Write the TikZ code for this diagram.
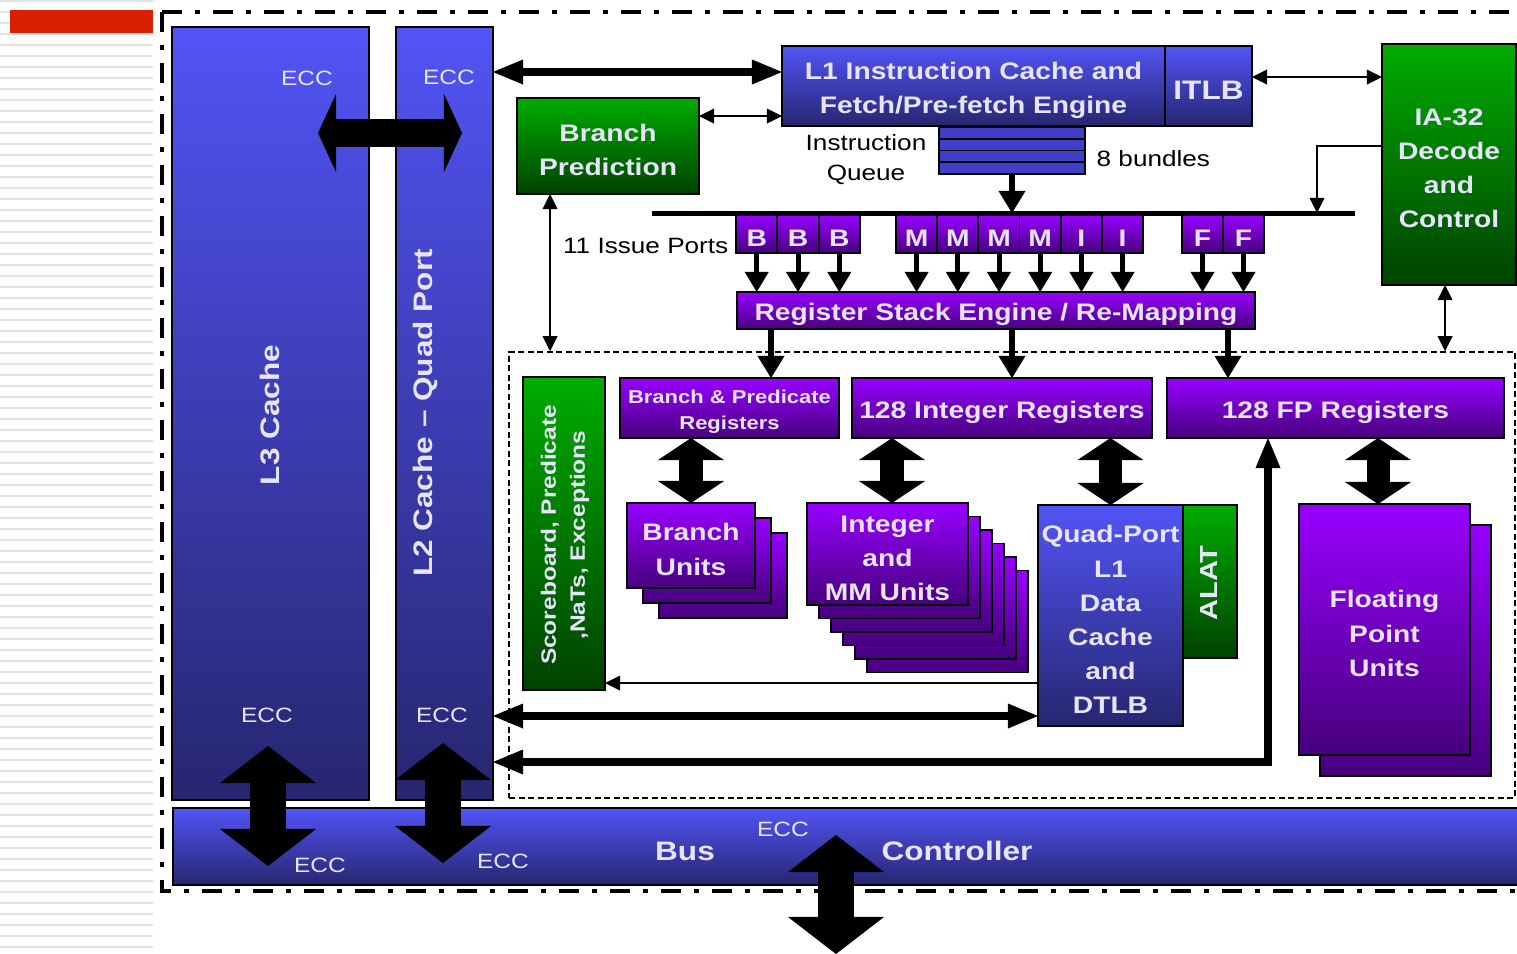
\documentclass[tikz,border=0pt]{standalone}
\usepackage{fontspec}
\setmainfont{Liberation Sans}[FakeStretch=1.18]
\usetikzlibrary{arrows.meta}

\definecolor{blutop}{RGB}{82,84,245}
\definecolor{blubot}{RGB}{38,38,112}
\definecolor{grntop}{RGB}{0,172,0}
\definecolor{grnbot}{RGB}{0,66,0}
\definecolor{purtop}{RGB}{152,0,255}
\definecolor{purbot}{RGB}{70,0,125}
\definecolor{qblue}{RGB}{62,62,200}
\definecolor{lav}{RGB}{232,228,252}
\definecolor{redbar}{RGB}{216,32,0}
\definecolor{strip}{RGB}{226,226,226}

\tikzset{
  sz/.style 2 args={minimum width=#1*0.01cm, minimum height=#2*0.01cm},
  box/.style={draw=black, line width=0.5pt, inner sep=0pt, outer sep=0pt},
  blubox/.style={box, top color=blutop, bottom color=blubot},
  grnbox/.style={box, top color=grntop, bottom color=grnbot},
  purbox/.style={box, top color=purtop, bottom color=purbot},
  wlbl/.style={text=lav, font=\bfseries\fontsize{6.8}{9.7}\selectfont, align=center},
  txt/.style={label={[wlbl, yshift=-0.04cm]center:{#1}}},
  txtf/.style 2 args={label={[wlbl, font=#1, yshift=-0.04cm]center:{#2}}},
  wbig/.style={text=lav, font=\bfseries\fontsize{7.6}{9}\selectfont, inner sep=0pt},
  ecc/.style={text=lav, font=\fontsize{5.9}{7}\selectfont, inner sep=0pt},
  blk/.style={text=black, font=\fontsize{6.3}{8.5}\selectfont, align=center, inner sep=0pt},
  thinarr/.style={line width=0.016cm, arrows={Triangle[width=0.15cm,length=0.15cm,line width=0pt]-Triangle[width=0.15cm,length=0.15cm,line width=0pt]}},
  thinend/.style={line width=0.016cm, arrows={-Triangle[width=0.15cm,length=0.15cm,line width=0pt]}},
  midarr/.style={line width=0.08cm, arrows={Triangle[width=0.25cm,length=0.3cm,line width=0pt]-Triangle[width=0.25cm,length=0.3cm,line width=0pt]}},
  portarr/.style={line width=0.05cm, arrows={-Triangle[width=0.24cm,length=0.2cm,line width=0pt]}},
  regarr/.style={line width=0.06cm, arrows={-Triangle[width=0.27cm,length=0.22cm,line width=0pt]}},
  blockarr/.style={line width=0.23cm, arrows={Triangle[width=0.66cm,length=0.22cm,line width=0pt]-Triangle[width=0.66cm,length=0.22cm,line width=0pt]}},
  eccarr/.style={line width=0.28cm, arrows={Triangle[width=0.78cm,length=0.18cm,line width=0pt]-Triangle[width=0.78cm,length=0.18cm,line width=0pt]}},
  busarr/.style={line width=0.35cm, arrows={Triangle[width=0.96cm,length=0.37cm,line width=0pt]-Triangle[width=0.96cm,length=0.37cm,line width=0pt]}},
  stripe/.style={line width=0.025cm, strip},
  frame/.style={line width=0.04cm, dash pattern=on 0.2cm off 0.13cm on 0.05cm off 0.13cm},
  coredash/.style={draw=black, line width=0.015cm, dash pattern=on 0.06cm off 0.035cm, inner sep=0pt}
}

\begin{document}
\begin{tikzpicture}[x=0.01cm, y=-0.01cm]
\useasboundingbox (0,0) rectangle (1517,954);

% slide background
\foreach \y in {1,12,...,951} \draw[stripe] (0,\y) -- (153,\y);
\fill[redbar] (10,10) rectangle (153,33);
\draw[frame] (162,12) -- (1600,12) (162,12) -- (162,891) -- (1600,891);

% caches and bus
\node[blubox, sz={197}{773}] (L3) at (270.5,413.5) {};
\node[blubox, sz={97}{773}] (L2) at (444.5,413.5) {};
\node[blubox, sz={1400}{77}] (bus) at (873,846.5) {};
\node[wbig, rotate=90] (l3txt) at (270,415) {L3 Cache};
\node[wbig, rotate=90] (l2txt) at (425,413) {L2 Cache – Quad Port};

\node[coredash, sz={1006}{446}] (core) at (1012,575) {};

% front end
\node[blubox, sz={383}{80}, txt={L1 Instruction Cache and\\Fetch/Pre-fetch Engine}] (L1) at (973.5,86) {};
\node[blubox, sz={87}{80}, txtf={\bfseries\fontsize{7.6}{9}\selectfont}{ITLB}] (ITLB) at (1208.5,86) {};
\foreach \i in {1,...,4}
  \node[box, fill=qblue, sz={146}{11.75}] (q\i) at (1012,121.125+11.75*\i) {};
\node[blk] (iq) at (866,160) {Instruction\\Queue};
\node[blk, anchor=west] (bund) at (1096,159) {8 bundles};
\node[grnbox, sz={182}{96}, txt={Branch\\Prediction}] (BP) at (608,146) {};
\node[grnbox, sz={134}{241}, txt={IA-32\\Decode\\and\\Control}] (IA32) at (1449,164.5) {};

% dispatch
\coordinate (dispL) at (652,213);
\coordinate (dispR) at (1355,213);
\draw[line width=0.05cm] (dispL) -- (dispR);
\node[blk, anchor=east] (issue) at (729,246) {11 Issue Ports};
\foreach \nm/\cx/\lt in {pb1/756.7/B, pb2/798/B, pb3/839.3/B,
    pm1/916.6/M, pm2/957.8/M, pm3/999/M, pm4/1040.2/M, pi1/1081.4/I, pi2/1122.6/I,
    pf1/1202.5/F, pf2/1243.5/F}
  \node[purbox, sz={41.3}{38}, txt={\lt}] (\nm) at (\cx,234) {};
\node[purbox, sz={518}{37}, txt={Register Stack Engine / Re-Mapping}] (RSE) at (996,310.5) {};

% registers
\node[purbox, sz={219}{60}, txtf={\bfseries\fontsize{5.3}{7.4}\selectfont}{Branch \& Predicate\\Registers}] (BPreg) at (729.5,408) {};
\node[purbox, sz={300}{60}, txt={128 Integer Registers}] (IntReg) at (1002,408) {};
\node[purbox, sz={337}{60}, txt={128 FP Registers}] (FPReg) at (1335.5,408) {};

% execution units
\node[grnbox, sz={82}{313}] (SB) at (564,533.5) {};
\node[wlbl, rotate=90, font=\bfseries\fontsize{5.9}{8.2}\selectfont] (sbtxt) at (565,535) {Scoreboard, Predicate\\,NaTs, Exceptions};
\foreach \i in {2,1}
  \node[purbox, sz={128}{85}] (bu\i) at (691+16*\i,545.5+15*\i) {};
\node[purbox, sz={128}{85}, txt={Branch\\Units}] (BrU) at (691,545.5) {};
\foreach \i in {5,4,3,2,1}
  \node[purbox, sz={161}{102}] (iu\i) at (887.5+12*\i,554+13.5*\i) {};
\node[purbox, sz={161}{102}, txt={Integer\\and\\MM Units}] (IntU) at (887.5,554) {};
\node[blubox, sz={145}{221}, txt={Quad-Port\\L1\\Data\\Cache\\and\\DTLB}] (Quad) at (1110.5,615.5) {};
\node[grnbox, sz={54}{153}] (ALAT) at (1210,581.5) {};
\node[wlbl, rotate=90, font=\bfseries\fontsize{7}{8}\selectfont] (alattxt) at (1209,583) {ALAT};
\node[purbox, sz={171}{251}] (fpu1) at (1405.5,650.5) {};
\node[purbox, sz={171}{251}, txt={Floating\\Point\\Units}] (FPU) at (1384.5,629.5) {};

% ECC labels
\node[ecc] (ecc1) at (307,78) {ECC};
\node[ecc] (ecc2) at (449,77) {ECC};
\node[ecc] (ecc3) at (267,715) {ECC};
\node[ecc] (ecc4) at (442,715) {ECC};
\node[ecc] (ecc5) at (320,865) {ECC};
\node[ecc] (ecc6) at (503,861) {ECC};
\node[ecc] (ecc7) at (783,829) {ECC};
\node[wbig] (bustxt) at (685,851) {Bus};
\node[wbig] (ctltxt) at (957,851) {Controller};

% connectors
\draw[midarr] (L2.east |- 0,72) -- (L1.west |- 0,72);
\draw[thinarr] (BP.east |- 0,116) -- (L1.west |- 0,116);
\draw[thinarr] (ITLB.east |- 0,77) -- (IA32.west |- 0,77);
\coordinate (iadrop) at (1317,213);
\draw[thinend] (IA32.west |- 0,146) -| (iadrop);
\draw[regarr] (q4.south) -- (q4.south |- dispL);
\foreach \nm in {pb1,pb2,pb3,pm1,pm2,pm3,pm4,pi1,pi2,pf1,pf2}
  \draw[portarr] (\nm.south) -- (\nm.south |- RSE.north);
\draw[regarr] (RSE.south -| 771,0) -- (BPreg.north -| 771,0);
\draw[regarr] (RSE.south -| 1012,0) -- (IntReg.north -| 1012,0);
\draw[regarr] (RSE.south -| 1228,0) -- (FPReg.north -| 1228,0);
\draw[thinarr] (BP.south -| 550,0) -- (core.north -| 550,0);
\draw[thinarr] (IA32.south -| 1445,0) -- (core.north -| 1445,0);

\draw[blockarr] (BPreg.south -| BrU.north) -- (BrU.north);
\draw[blockarr] (IntReg.south -| 892,0) -- (IntU.north -| 892,0);
\draw[blockarr] (IntReg.south -| Quad.north) -- (Quad.north);
\draw[blockarr] (FPReg.south -| 1378,0) -- (FPU.north -| 1378,0);

\draw[thinend] (Quad.west |- 0,683) -- (SB.east |- 0,683);
\draw[midarr] (L2.east |- 0,716) -- (Quad.west |- 0,716);
\draw[midarr] (L2.east |- 0,762) -| (FPReg.south -| 1268,0);

\coordinate (l3r) at (318,133);
\coordinate (l2l) at (462,133);
\draw[eccarr] (l3r) -- (l2l);
\coordinate (l3up) at (268,746);
\coordinate (l3dn) at (268,866);
\draw[busarr] (l3up) -- (l3dn);
\coordinate (l2up) at (443,743);
\coordinate (l2dn) at (443,863);
\draw[busarr] (l2up) -- (l2dn);
\coordinate (busup) at (836,835);
\coordinate (busdn) at (836,954);
\draw[busarr] (busup) -- (busdn);

\end{tikzpicture}
\end{document}
